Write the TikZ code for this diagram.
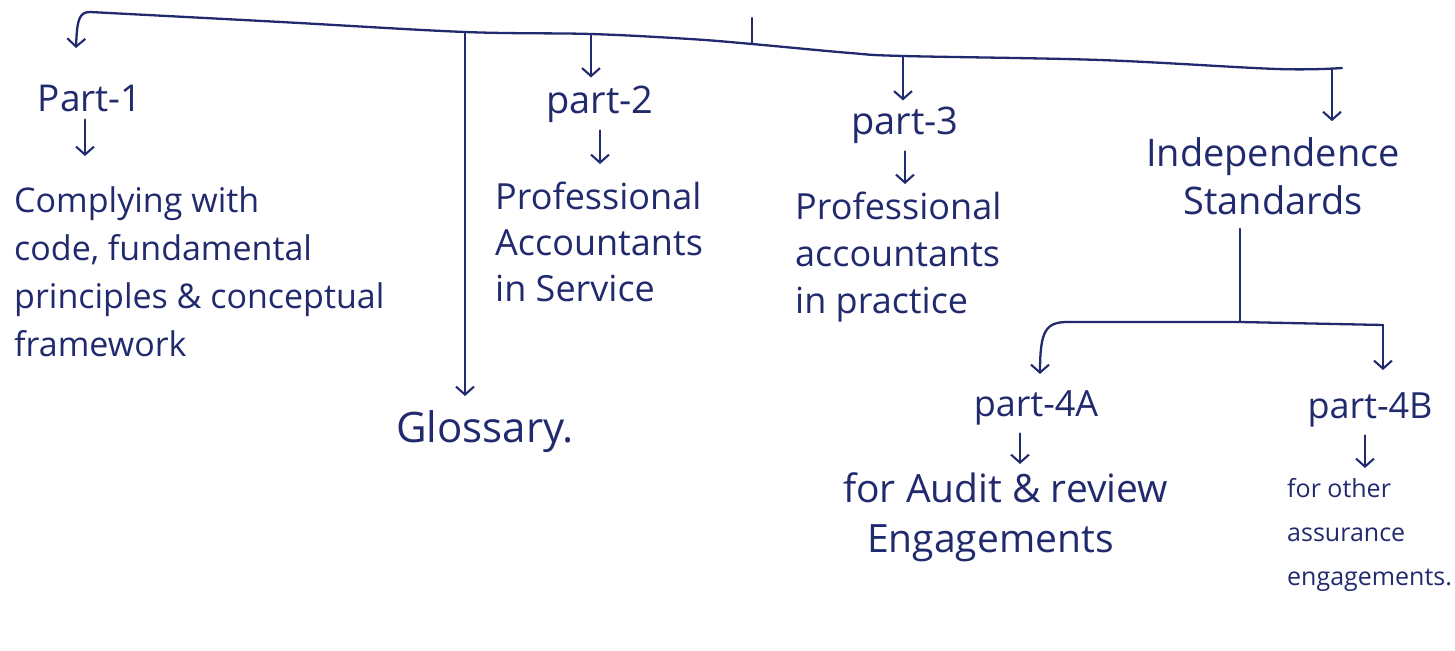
\documentclass[tikz,border=0pt]{standalone}
\usepackage{fontspec}
\setmainfont{Open Sans}
\usetikzlibrary{arrows.meta,calc}
\definecolor{ink}{HTML}{222A6E}
\begin{document}
\begin{tikzpicture}[x=1pt,y=-1pt,
  txt/.style={text=ink, inner sep=0pt, align=left},
  link/.style={draw=ink, line width=2.3pt, line cap=round, line join=round},
  arr/.style={link, -{Straight Barb[length=8pt,width=18pt,line width=2.1pt]}}]
\useasboundingbox (0,0) rectangle (1455,650);

% ---- nodes
\node[txt, font=\fontsize{37}{46}\selectfont] (p1) at (90,98) {Part-1};
\node[txt, font=\fontsize{34}{48}\selectfont, anchor=north west] (t1) at (14,186)
  {Complying with\\code, fundamental\\principles \& conceptual\\framework};
\node[txt, font=\fontsize{42}{50}\selectfont, anchor=north west] (gl) at (396,410) {Glossary.};
\node[txt, font=\fontsize{38}{46}\selectfont] (p2) at (600,104) {part-2};
\node[txt, font=\fontsize{36}{46}\selectfont, anchor=north west] (t2) at (495,182)
  {Professional\\Accountants\\in Service};
\node[txt, font=\fontsize{38}{46}\selectfont] (p3) at (905,125) {part-3};
\node[txt, font=\fontsize{36}{47}\selectfont, anchor=north west] (t3) at (795,192)
  {Professional\\accountants\\in practice};
\node[txt, font=\fontsize{38}{48}\selectfont, align=center] (ind) at (1273,176)
  {Independence\\Standards};
\node[txt, font=\fontsize{36}{46}\selectfont] (p4a) at (1036,408) {part-4A};
\node[txt, font=\fontsize{39}{50}\selectfont, anchor=north west] (t4a) at (843,472)
  {for Audit \& review\\\hspace*{24pt}Engagements};
\node[txt, font=\fontsize{36}{46}\selectfont] (p4b) at (1370,410) {part-4B};
\node[txt, font=\fontsize{25}{44}\selectfont, anchor=north west] (t4b) at (1287,478)
  {for other\\assurance\\engagements.};

% ---- top bus
\coordinate (bL) at (90,12);
\coordinate (bG) at (465,32);
\coordinate (b2) at (591,34);
\coordinate (bT) at (752,44);
\coordinate (b3) at (903,56);
\coordinate (bI) at (1332,69);
\coordinate (bR) at (1342,68);
\coordinate (tT) at (752,18);
\coordinate (a1) at (76,48);
\draw[link] plot[smooth, tension=0.55] coordinates
  {(bL) (281,22) (bG) (b2) (690,39) (bT) (850,53) (b3) (1100,60) (1277,69) (bR)};
\draw[arr] (bL) .. controls (79,12) and (77,20) .. (a1);
\draw[link] (bT) -- (tT);
\draw[arr, shorten >=14pt] (bG) -- (bG |- gl.north);
\draw[arr, shorten >=8pt] (b2) -- (b2 |- p2.north);
\draw[arr, shorten >=6pt] (b3) -- (b3 |- p3.north);
\draw[arr, shorten >=16pt] (bI) -- (bI |- ind.north);

% ---- part to text arrows
\draw[arr, shorten <=8pt, shorten >=30pt] ([xshift=-5pt]p1.south) -- ([xshift=-5pt]p1.south |- t1.north);
\draw[arr, shorten <=8pt, shorten >=18pt] (p2.south) -- (p2.south |- t2.north);
\draw[arr, shorten <=8pt, shorten >=8pt] (p3.south) -- (p3.south |- t3.north);
\draw[arr, shorten <=8pt, shorten >=8pt] ([xshift=-16pt]p4a.south) -- ([xshift=-16pt]p4a.south |- t4a.north);
\draw[arr, shorten <=8pt, shorten >=10pt] ([xshift=-5pt]p4b.south) -- ([xshift=-5pt]p4b.south |- t4b.north);

% ---- second level
\coordinate (jn) at (1240,322);
\coordinate (hL) at (1068,322);
\coordinate (hR) at (1383,325);
\coordinate (a4a) at (1040,374);
\coordinate (a4b) at (1383,370);
\draw[link, shorten <=14pt] (jn |- ind.south) -- (jn);
\draw[link] (hL) -- (jn) -- (hR);
\draw[arr] (hL) .. controls (1046,322) and (1040,330) .. (a4a);
\draw[arr] (hR) -- (a4b);
\end{tikzpicture}
\end{document}
